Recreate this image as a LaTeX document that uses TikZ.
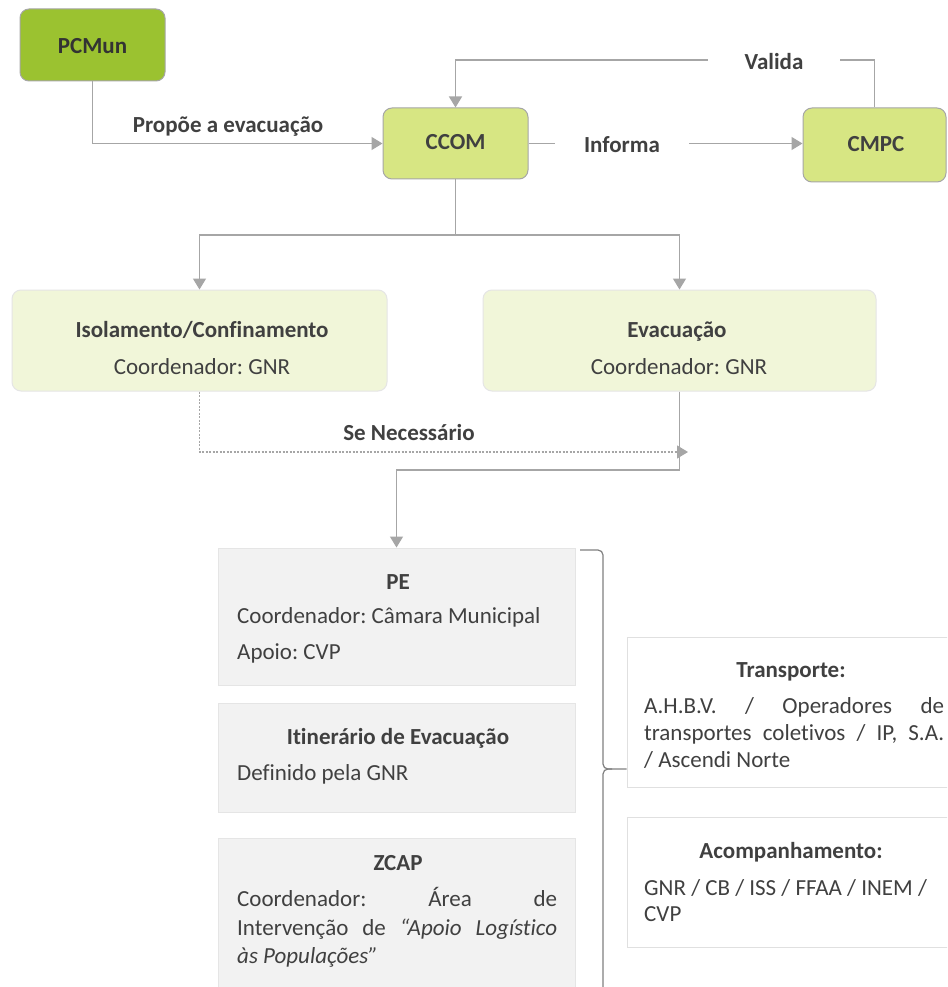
\documentclass[tikz,border=0pt]{standalone}
\usepackage{fontspec}
\setmainfont{Carlito}[Ligatures=NoCommon]
\frenchspacing
\usetikzlibrary{arrows.meta}
\definecolor{txt}{HTML}{404040}
\definecolor{ln}{HTML}{A6A6A6}
\definecolor{dkgreen}{HTML}{9BC230}
\definecolor{ltgreen}{HTML}{D7E683}
\definecolor{paleg}{HTML}{F1F6D9}
\definecolor{greybox}{HTML}{F2F2F2}
\tikzset{
  every node/.style={font=\fontsize{23}{28}\selectfont, text=txt},
  arr/.style={draw=ln, line width=1.5pt, -{Triangle[width=13pt,length=11pt]}},
  conn/.style={draw=ln, line width=1.5pt},
  bigbox/.style={draw=gray!70, line width=1pt, rounded corners=9pt, inner sep=0pt},
  palebox/.style={draw=black!10, fill=paleg, line width=1pt, rounded corners=9pt, inner sep=0pt},
  greyrect/.style={draw=black!10, fill=greybox, line width=1pt, inner sep=0pt},
  whiterect/.style={draw=black!12, fill=white, line width=1pt, inner sep=0pt},
  lbl/.style={anchor=base, inner sep=0pt},
  gaplbl/.style={anchor=base, fill=white, inner xsep=30pt, inner ysep=6pt},
  ttl/.style={anchor=base, inner sep=0pt, font=\fontsize{23}{28}\selectfont\bfseries},
  bodyl/.style={anchor=base west, inner sep=0pt}
}
\begin{document}
\begin{tikzpicture}[x=1pt,y=-1pt]
\clip (0,0) rectangle (947,987);
\fill[white] (0,0) rectangle (947,987);

% top boxes
\node[bigbox, fill=dkgreen, minimum width=145pt, minimum height=72pt] (pcmun) at (92.5,45) {};
\node[bigbox, fill=ltgreen, minimum width=145pt, minimum height=71pt] (ccom) at (455.5,143.5) {};
\node[bigbox, fill=ltgreen, minimum width=143pt, minimum height=74pt] (cmpc) at (874.5,145) {};
\node[ttl, text=black!80] (pcmunt) at (92.5,54) {PCMun};
\node[ttl] (ccomt) at (455.5,150) {CCOM};
\node[ttl] (cmpct) at (876,152) {CMPC};

% middle boxes
\node[palebox, minimum width=375pt, minimum height=101pt] (isol) at (199.5,340.5) {};
\node[palebox, minimum width=393pt, minimum height=101pt] (evac) at (679.5,340.5) {};
\node[ttl] (isolt) at (202,337) {Isolamento/Confinamento};
\node[lbl] (isolc) at (202,374) {Coordenador: GNR};
\node[ttl] (evact) at (677,337) {Evacuação};
\node[lbl] (evacc) at (679,374) {Coordenador: GNR};

% lower left boxes
\node[greyrect, minimum width=357pt, minimum height=137pt] (pe) at (396.5,616.5) {};
\node[greyrect, minimum width=357pt, minimum height=109pt] (itin) at (396.5,757.5) {};
\node[greyrect, minimum width=357pt, minimum height=162pt] (zcap) at (396.5,919) {};
\node[ttl] (pet) at (398,589) {PE};
\node[bodyl] (pe1) at (237,623) {Coordenador: Câmara Municipal};
\node[bodyl] (pe2) at (237,659) {Apoio: CVP};
\node[ttl] (itint) at (398,744) {Itinerário de Evacuação};
\node[bodyl] (itin1) at (237,780) {Definido pela GNR};
\node[ttl] (zcapt) at (398,870) {ZCAP};
\node[bodyl] (zcap1) at (237,906) {\makebox[320pt][s]{Coordenador: Área de}};
\node[bodyl] (zcap2) at (237,935) {\makebox[320pt][s]{Intervenção de \textit{“Apoio Logístico}}};
\node[bodyl] (zcap3) at (237,963) {\textit{às Populações”}};

% right boxes
\node[whiterect, minimum width=333pt, minimum height=150pt] (transp) at (793.5,712) {};
\node[whiterect, minimum width=333pt, minimum height=130pt] (acomp) at (793.5,882) {};
\node[ttl] (transpt) at (791,677) {Transporte:};
\node[bodyl] (tr1) at (644,713) {\makebox[300pt][s]{A.H.B.V. / Operadores de}};
\node[bodyl] (tr2) at (644,740) {\makebox[300pt][s]{transportes coletivos / IP, S.A.}};
\node[bodyl] (tr3) at (644,767) {/ Ascendi Norte};
\node[ttl] (acompt) at (791,858) {Acompanhamento:};
\node[bodyl] (ac1) at (644,895) {GNR / CB / ISS / FFAA / INEM /};
\node[bodyl] (ac2) at (644,921) {CVP};

% connectors
\draw[arr] (pcmun.south) |- (ccom.west);
\draw[arr] (cmpc.north) |- (ccom.north |- 0,60) -- (ccom.north);
\draw[arr] (ccom.east) -- (ccom.east -| cmpc.west);
\coordinate (jn) at (455.5,235);
\draw[arr] (ccom.south) -- (jn) -| (isol.north);
\draw[arr] (jn) -| (evac.north);
\coordinate (sn) at (688,452);
\draw[arr, dash pattern=on 2pt off 1.5pt, line width=1.3pt] (isol.south) |- (sn);
\coordinate (ej) at (396.5,470);
\draw[arr] (evac.south) |- (ej) -- (pe.north);

% brace
\coordinate (bt) at (580,550);
\coordinate (bm) at (603,769);
\draw[draw=gray, line width=1.2pt, rounded corners=5pt] (bt) -| (bm) -- (transp.west |- bm);
\draw[draw=gray, line width=1.2pt, rounded corners=5pt] (612,769) -| (603,1000);

% labels
\node[lbl] (propoe) at (228,133) {\bfseries Propõe a evacuação};
\node[gaplbl, inner xsep=37pt] (valida) at (774,70) {\bfseries Valida};
\node[gaplbl, inner xsep=29pt] (informa) at (622,153) {\bfseries Informa};
\node[lbl] (senec) at (409,440) {\bfseries Se Necessário};
\end{tikzpicture}
\end{document}
